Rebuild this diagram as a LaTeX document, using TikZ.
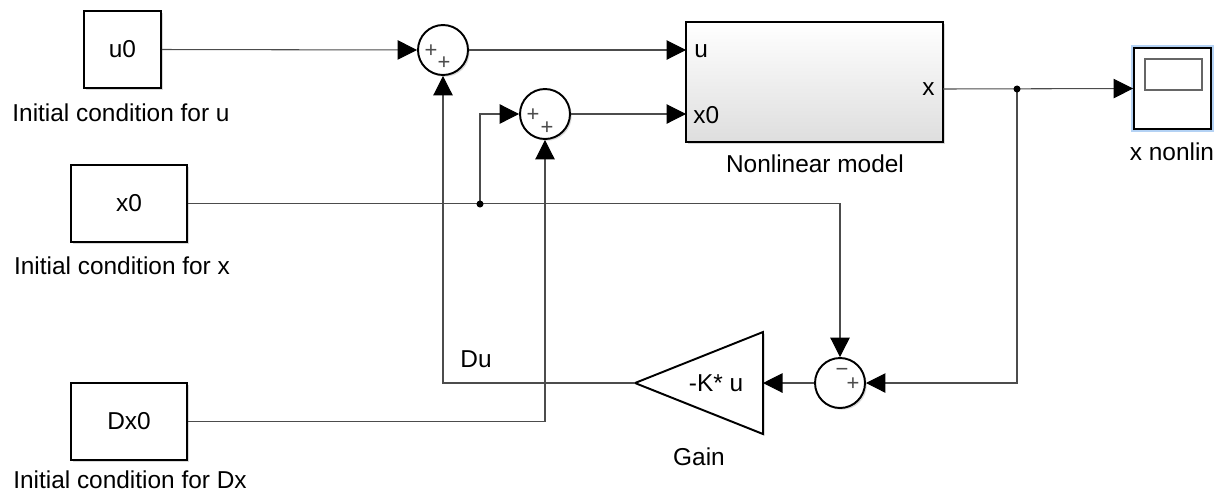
\documentclass[tikz,border=0pt]{standalone}
\usepackage{fontspec}
\setmainfont{Liberation Sans}
\usetikzlibrary{arrows.meta,shadows}
\definecolor{glow}{HTML}{B4D2F4}
\begin{document}
\begin{tikzpicture}[x=0.02cm,y=-0.02cm,
    font=\fontsize{13.9}{16}\selectfont,
    shad/.style={drop shadow={shadow xshift=1pt,shadow yshift=-1pt,opacity=0.3}},
    blk/.style={draw,line width=1.1pt,fill=white,minimum width=2.32cm,minimum height=1.54cm,inner sep=0pt,shad},
    sumblk/.style={draw,circle,line width=1.1pt,fill=white,minimum size=1cm,inner sep=0pt,shad},
    sig/.style={draw=black!70,line width=0.6pt,-{Triangle[length=0.39cm,width=0.39cm,color=black]}},
    sgn/.style={font=\fontsize{12.5}{12.5}\selectfont,text=black!70,inner sep=0pt}]
    \useasboundingbox (0,0) rectangle (1222,495);
    % sources
    \node[blk,minimum width=1.54cm] (u0) at (122.5,49.5) {u0};
    \node (lu0) at (121,113) {Initial condition for u};
    \node[blk] (x0) at (129,203.5) {x0};
    \node (lx0) at (122,266) {Initial condition for x};
    \node[blk] (dx0) at (129,421.5) {Dx0};
    \node (ldx0) at (130,480) {Initial condition for Dx};
    % sums
    \node[sumblk] (s1) at (443,50) {};
    \node[sgn] at (431,51) {+}; \node[sgn] at (444,63) {+};
    \node[sumblk] (s2) at (545,114) {};
    \node[sgn] at (533,115) {+}; \node[sgn] at (547,128) {+};
    \node[sumblk] (s3) at (840,383) {};
    \node[sgn] at (842,372) {−}; \node[sgn] at (853,384) {+};
    % plant
    \node[blk,minimum width=5.14cm,minimum height=2.4cm,top color=white,bottom color=black!13] (nl) at (814.5,82) {};
    \node[anchor=west,inner sep=0pt] (lu) at (694,51) {u};
    \node[anchor=west,inner sep=0pt] (lx0p) at (693,115) {x0};
    \node[anchor=east,inner sep=0pt] (lxp) at (935,89) {x};
    \node (lnl) at (815,164) {Nonlinear model};
    \coordinate (pu) at (686,50); \coordinate (px0) at (686,114);
    \coordinate (px) at (943,89);
    % scope
    \node[draw,line width=1.1pt,fill=white,minimum width=1.54cm,minimum height=1.62cm,
      preaction={draw=glow,line width=3.6pt}] (sc) at (1172.5,88.5) {};
    \draw[black!60,line width=0.6pt] (1145,59) rectangle (1202,90);
    \node (lsc) at (1172,152) {x nonlin};
    % gain
    \coordinate (gtip) at (635,383); \coordinate (gin) at (763,383);
    \draw[line width=1.1pt,fill=white,shad] (gtip) -- (763,332) -- (763,434) -- cycle;
    \node (kl) at (716,383) {-K* u};
    \node (lg) at (699,457) {Gain};
    \node (ldu) at (476,359) {Du};
    % wires
    \coordinate (b1) at (1017,89); \coordinate (b2) at (480,204);
    \draw[sig] (u0.east) -- (s1.west);
    \draw[sig] (s1.east) -- (pu);
    \draw[sig] (s2.east) -- (px0);
    \draw[sig] (px) -- (sc.west);
    \draw[sig] (b1) |- (s3.east);
    \draw[sig] (s3.west) -- (gin);
    \draw[sig] (gtip) -| (s1.south);
    \draw[sig] (x0.east) -| (s3.north);
    \draw[sig] (b2) |- (s2.west);
    \draw[sig] (dx0.east) -| (s2.south);
    \fill (b1) circle (2pt); \fill (b2) circle (2pt);
\end{tikzpicture}
\end{document}
